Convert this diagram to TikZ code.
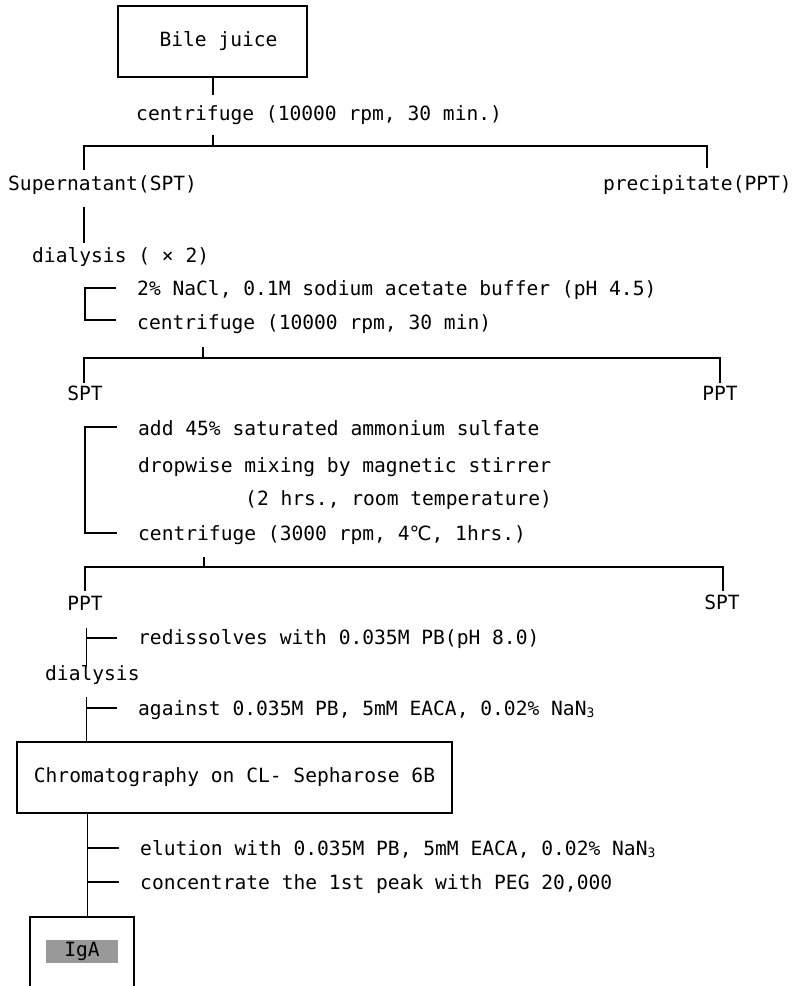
\documentclass[tikz,border=0pt]{standalone}
\usepackage{fontspec}
\setmainfont{DejaVu Sans Mono}
\newfontfamily\symfont{DejaVu Sans}
\newcommand{\subthree}{\raisebox{-0.25ex}{\fontsize{13}{13}\selectfont 3}}
\begin{document}
\begin{tikzpicture}[x=1pt,y=-1pt,
  every node/.style={inner sep=0pt, font=\fontsize{19.6}{22}\selectfont},
  txt/.style={anchor=base west},
  ctr/.style={anchor=base},
  boxnode/.style={draw, line width=1.2pt, inner sep=0pt},
  ln/.style={line width=1.1pt}]
\useasboundingbox (0,0) rectangle (794,986);

% boxes
\node[boxnode, minimum width=189pt, minimum height=71pt] (bile) at (212.5,41.5) {\hspace{12pt}Bile juice};
\node[boxnode, minimum width=435pt, minimum height=71pt] (chrom) at (234.5,777.5) {Chromatography on CL- Sepharose 6B};

% texts
\node[txt] (c1) at (136,120) {centrifuge (10000 rpm, 30 min.)};
\node[txt] (spt1) at (8,190) {Supernatant(SPT)};
\node[anchor=base east] (ppt1) at (792,190) {precipitate(PPT)};
\node[txt] (dial1) at (32,262) {dialysis ( × 2)};
\node[txt] (t2) at (137,295) {2\% NaCl, 0.1M sodium acetate buffer (pH 4.5)};
\node[txt] (t3) at (137,329) {centrifuge (10000 rpm, 30 min)};
\node[ctr] (spt2) at (85,400) {SPT};
\node[ctr] (ppt2) at (720,400) {PPT};
\node[txt] (t4) at (138,435) {add 45\% saturated ammonium sulfate};
\node[txt] (t5) at (138,472) {dropwise mixing by magnetic stirrer};
\node[txt] (t6) at (245,505) {(2 hrs., room temperature)};
\node[txt] (t7) at (138,540) {centrifuge (3000 rpm, 4{\symfont ℃}, 1hrs.)};
\node[ctr] (ppt3) at (85,610) {PPT};
\node[ctr] (spt3) at (722,609) {SPT};
\node[txt] (t8) at (138,644) {redissolves with 0.035M PB(pH 8.0)};
\node[txt] (dial2) at (45,680) {dialysis};
\node[txt] (t9) at (138,715) {against 0.035M PB, 5mM EACA, 0.02\% NaN\subthree};
\node[txt] (t10) at (140,855) {elution with 0.035M PB, 5mM EACA, 0.02\% NaN\subthree};
\node[txt] (t11) at (140,889) {concentrate the 1st peak with PEG 20,000};

% IgA box (open at the bottom)
\coordinate (igaTL) at (30,917);
\coordinate (igaTR) at (134,917);
\coordinate (igaBL) at (30,990);
\coordinate (igaBR) at (134,990);
\draw[line width=1.2pt] (igaBL) -- (igaTL) -- (igaTR) -- (igaBR);
\node[fill=black!40, text=black, minimum width=72pt, minimum height=23pt] (iga) at (82,951.5) {IgA};

% coordinates for connectors
\coordinate (a1) at (213,95);
\coordinate (a2) at (213,135);
\coordinate (a3) at (213,146);
\coordinate (h1l) at (84,146);
\coordinate (h1r) at (707,146);
\coordinate (d1l) at (84,170);
\coordinate (d1r) at (707,168);
\coordinate (b1) at (84,207);
\coordinate (b2) at (84,243);
\coordinate (k1a) at (116,288);
\coordinate (k1b) at (85,288);
\coordinate (k1c) at (85,320);
\coordinate (k1d) at (116,320);
\coordinate (e1) at (203,347);
\coordinate (e2) at (203,358);
\coordinate (h2l) at (84,358);
\coordinate (h2r) at (720,358);
\coordinate (d2l) at (84,383);
\coordinate (d2r) at (720,383);
\coordinate (k2a) at (117,427);
\coordinate (k2b) at (85,427);
\coordinate (k2c) at (85,533);
\coordinate (k2d) at (117,533);
\coordinate (f1) at (204,557);
\coordinate (f2) at (204,567);
\coordinate (h3l) at (85,567);
\coordinate (h3r) at (723,567);
\coordinate (d3l) at (85,591);
\coordinate (d3r) at (723,591);
\coordinate (g1) at (86.5,628);
\coordinate (g2) at (86.5,667);
\coordinate (g3) at (86.5,638);
\coordinate (g4) at (117,638);
\coordinate (m1) at (86.5,697);
\coordinate (m3) at (86.5,708);
\coordinate (m4) at (117,708);
\coordinate (n3) at (87.5,848);
\coordinate (n4) at (119,848);
\coordinate (n5) at (87.5,882);
\coordinate (n6) at (119,882);

\draw[ln] (bile.south -| a1) -- (a1);
\draw[ln] (a2) -- (a3);
\draw[ln] (d1l) -- (h1l) -- (h1r) -- (d1r);
\draw[ln] (b1) -- (b2);
\draw[ln] (k1a) -- (k1b) -- (k1c) -- (k1d);
\draw[ln] (e1) -- (e2);
\draw[ln] (d2l) -- (h2l) -- (h2r) -- (d2r);
\draw[ln] (k2a) -- (k2b) -- (k2c) -- (k2d);
\draw[ln] (f1) -- (f2);
\draw[ln] (d3l) -- (h3l) -- (h3r) -- (d3r);
\draw[ln] (g1) -- (g2);
\draw[ln] (g3) -- (g4);
\draw[ln] (m1) -- (chrom.north -| m1);
\draw[ln] (m3) -- (m4);
\draw[ln] (chrom.south -| n3) -- (igaTL -| n3);
\draw[ln] (n3) -- (n4);
\draw[ln] (n5) -- (n6);
\end{tikzpicture}
\end{document}
